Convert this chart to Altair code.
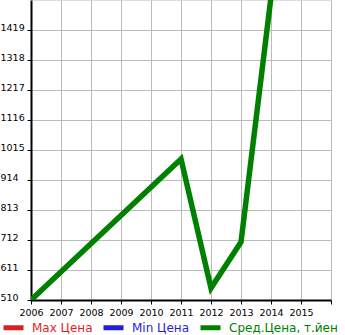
import altair as alt
import pandas as pd

years = [2006, 2011, 2012, 2013, 2014]
avg_price = [510, 985, 550, 705, 1530]
series_names = ["Max Цена", "Min Цена", "Сред.Цена, т.йен"]
series_colors = ["#dd1f1f", "#1f1fdd", "#008000"]
y_ticks = [510, 611, 712, 813, 914, 1015, 1116, 1217, 1318, 1419]
x_ticks = list(range(2006, 2017))

df = pd.DataFrame({"year": years, "value": avg_price, "series": [series_names[2]] * len(years)})

FONT = "DejaVu Sans"

chart = alt.Chart(df).mark_line(strokeWidth=5.5, clip=True, strokeJoin="miter").encode(
    x=alt.X("year:Q",
            scale=alt.Scale(domain=[2006, 2016], nice=False, zero=False),
            axis=alt.Axis(values=x_ticks, format="d", title=None, grid=True,
                          labelExpr="datum.value == 2016 ? '' : datum.label",
                          labelOverlap=False, labelFlush=False,
                          gridColor="#bbbbbb", gridWidth=1,
                          domainColor="#000000", domainWidth=2,
                          tickColor="#000000", tickSize=4, tickWidth=1,
                          labelFont=FONT, labelFontSize=9.5, labelColor="#000000",
                          labelPadding=3)),
    y=alt.Y("value:Q",
            scale=alt.Scale(domain=[510, 1520], nice=False, zero=False),
            axis=alt.Axis(values=y_ticks, format="d", title=None, grid=True,
                          labelOverlap=False, labelFlush=False,
                          gridColor="#bbbbbb", gridWidth=1,
                          domainColor="#000000", domainWidth=2,
                          tickColor="#000000", tickSize=4, tickWidth=1,
                          labelFont=FONT, labelFontSize=9.5, labelColor="#000000",
                          labelAlign="left", labelBaseline="alphabetic",
                          labelPadding=27, labelOffset=0)),
    color=alt.Color("series:N",
                    scale=alt.Scale(domain=series_names, range=series_colors),
                    legend=alt.Legend(title=None, orient="none", direction="horizontal",
                                      legendX=-30, legendY=315,
                                      symbolType="stroke", symbolSize=400,
                                      symbolStrokeWidth=5, labelFont=FONT,
                                      labelFontSize=12, labelOffset=6,
                                      columnPadding=0, padding=0, labelLimit=200,
                                      labelColor={"expr": "scale('color', datum.value)"})),
).properties(
    width=300, height=300,
    autosize=alt.AutoSizeParams(type="none"),
    padding={"left": 31, "top": 0, "right": 14, "bottom": 35},
).configure_view(fill="#f7f7f7", stroke=None).configure(background="#ffffff")

chart.save("out.html", embed_options={"renderer": "svg", "actions": False})
